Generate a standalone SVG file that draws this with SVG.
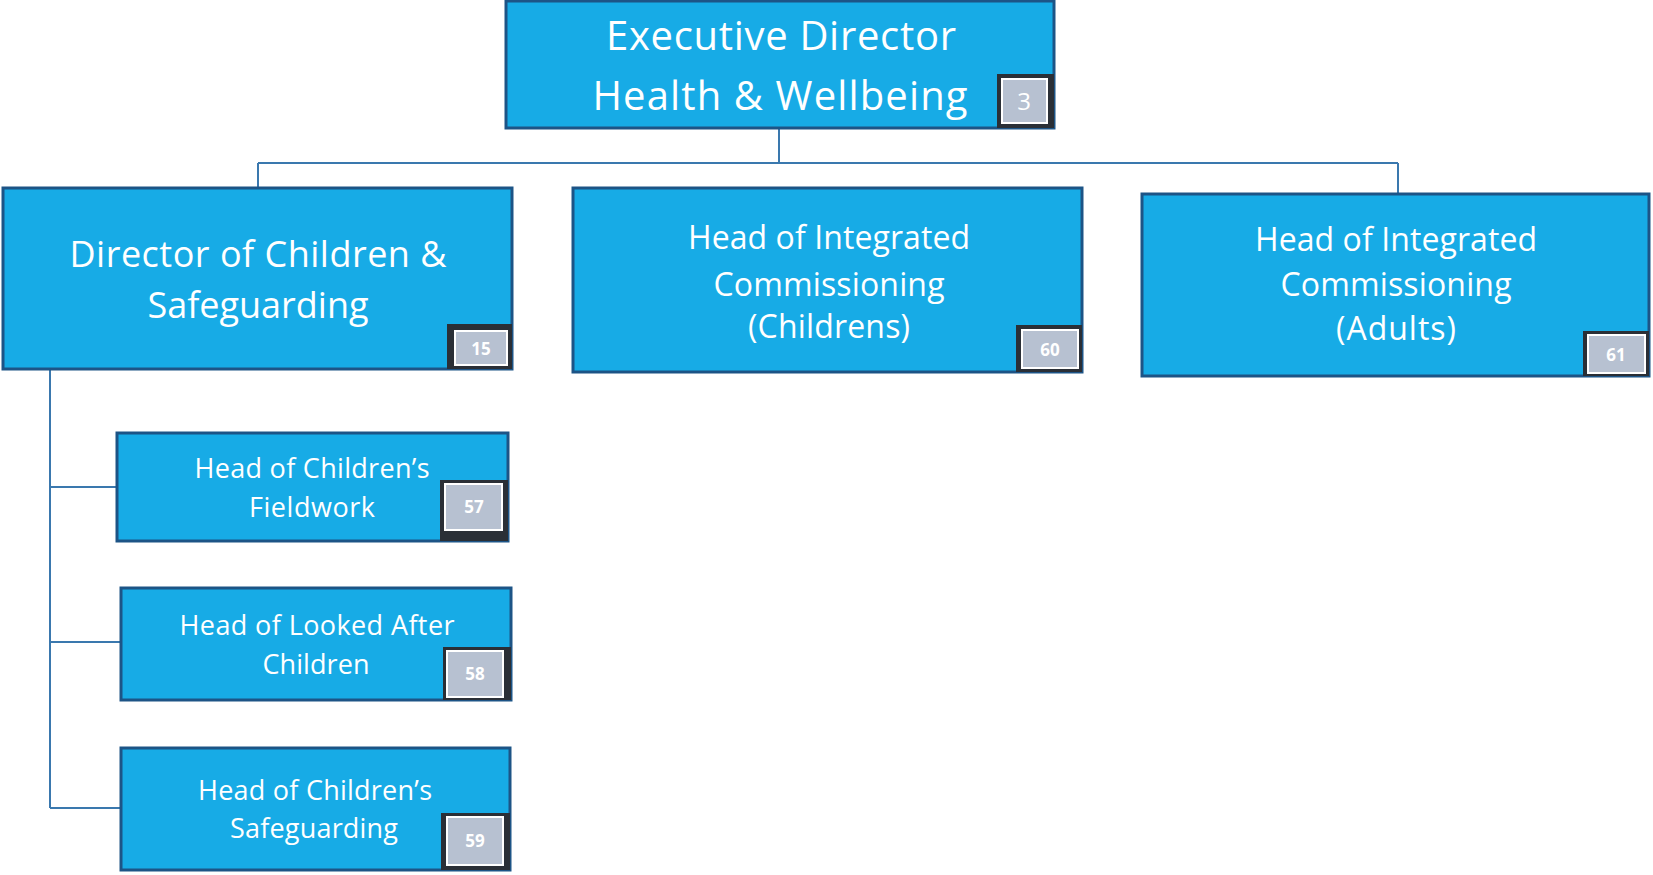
<svg xmlns="http://www.w3.org/2000/svg" width="1653" height="875" viewBox="0 0 1653 875">
<style>
.box{fill:#17abe6;stroke:#1d5486;stroke-width:3}
.frame{fill:#2a2f36}
.badge{fill:#b7c1d1;stroke:#ffffff;stroke-width:2}
.t{font-family:"Open Sans","Liberation Sans",sans-serif;fill:#ffffff;text-anchor:middle}
.n{font-family:"Open Sans","Liberation Sans",sans-serif;fill:#ffffff;text-anchor:middle;font-weight:bold;font-size:17px}
.n3{font-family:"Open Sans","Liberation Sans",sans-serif;fill:#ffffff;text-anchor:middle;font-size:24px}
.c{fill:none;stroke:#3a78ae;stroke-width:2}
</style>
<rect width="1653" height="875" fill="#ffffff"/>
<g id="connectors">
<path class="c" d="M779 128 V163 M258 163 H1398 M258 163 V188 M1398 163 V194"/>
<path class="c" d="M50 369 V808 M50 487 H117 M50 642 H121 M50 808 H121"/>
</g>
<g id="exec">
<rect class="box" x="506" y="1" width="548" height="127"/>
<text class="t" x="781" y="50" font-size="40" textLength="350">Executive Director</text>
<text class="t" x="780" y="110" font-size="40" textLength="375">Health &amp; Wellbeing</text>
<rect class="frame" x="997" y="74" width="57" height="54"/>
<rect class="badge" x="1002" y="79" width="45" height="44"/>
<text class="n3" x="1024" y="110">3</text>
</g>
<g id="director">
<rect class="box" x="3" y="188" width="509" height="181"/>
<text class="t" x="258" y="267" font-size="36" textLength="377">Director of Children &amp;</text>
<text class="t" x="258" y="318" font-size="36" textLength="221">Safeguarding</text>
<rect class="frame" x="447" y="324" width="65" height="45"/>
<rect class="badge" x="455" y="331" width="52" height="34"/>
<text class="n" x="481" y="355">15</text>
</g>
<g id="childrens">
<rect class="box" x="573" y="188" width="509" height="184"/>
<text class="t" x="829" y="249" font-size="32" textLength="282">Head of Integrated</text>
<text class="t" x="829" y="296" font-size="32" textLength="231">Commissioning</text>
<text class="t" x="829" y="338" font-size="32" textLength="162">(Childrens)</text>
<rect class="frame" x="1016" y="325" width="66" height="47"/>
<rect class="badge" x="1022" y="330" width="56" height="38"/>
<text class="n" x="1050" y="356">60</text>
</g>
<g id="adults">
<rect class="box" x="1142" y="194" width="507" height="182"/>
<text class="t" x="1396" y="251" font-size="32" textLength="282">Head of Integrated</text>
<text class="t" x="1396" y="296" font-size="32" textLength="231">Commissioning</text>
<text class="t" x="1396" y="340" font-size="32" textLength="120">(Adults)</text>
<rect class="frame" x="1583" y="331" width="66" height="45"/>
<rect class="badge" x="1588" y="335" width="57" height="38"/>
<text class="n" x="1616" y="361">61</text>
</g>
<g id="fieldwork">
<rect class="box" x="117" y="433" width="391" height="108"/>
<text class="t" x="312" y="478" font-size="27" textLength="235">Head of Children’s</text>
<text class="t" x="312" y="517" font-size="27" textLength="126">Fieldwork</text>
<rect class="frame" x="440" y="480" width="68" height="61"/>
<rect class="badge" x="445" y="484" width="57" height="46"/>
<text class="n" x="474" y="513">57</text>
</g>
<g id="lookedafter">
<rect class="box" x="121" y="588" width="390" height="112"/>
<text class="t" x="317" y="635" font-size="27" textLength="275">Head of Looked After</text>
<text class="t" x="316" y="674" font-size="27" textLength="107">Children</text>
<rect class="frame" x="443" y="647" width="68" height="53"/>
<rect class="badge" x="447" y="651" width="56" height="46"/>
<text class="n" x="475" y="680">58</text>
</g>
<g id="safeguarding">
<rect class="box" x="121" y="748" width="389" height="122"/>
<text class="t" x="315" y="800" font-size="27" textLength="234">Head of Children’s</text>
<text class="t" x="314" y="838" font-size="27" textLength="168">Safeguarding</text>
<rect class="frame" x="441" y="813" width="69" height="57"/>
<rect class="badge" x="447" y="817" width="56" height="48"/>
<text class="n" x="475" y="847">59</text>
</g>
</svg>
